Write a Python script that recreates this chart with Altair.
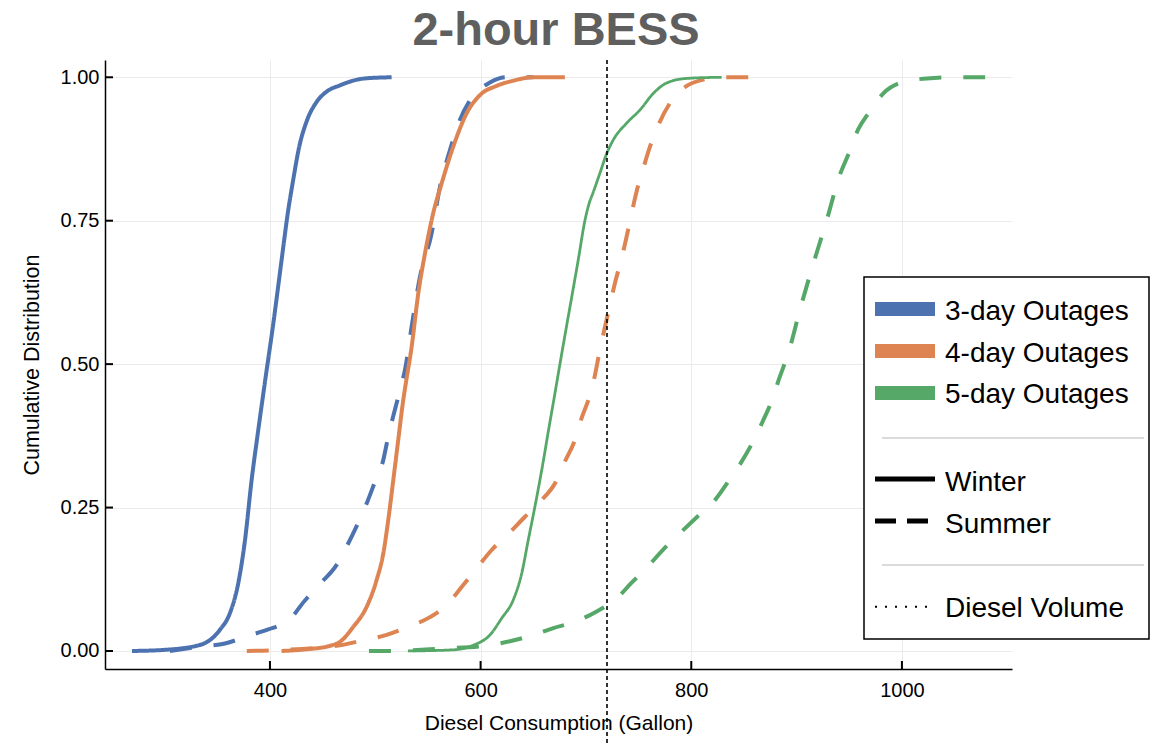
import altair as alt
import pandas as pd

# ---------------- data ----------------
chart_title = "2-hour BESS"
outages = ["3-day Outages", "4-day Outages", "5-day Outages"]
seasons = ["Winter", "Summer"]
colors = ["#4C72B0", "#DD8452", "#55A868"]

w3_x = [269, 300, 333.5, 352.5, 362, 369.9, 376.3, 382.6, 388.9, 395.5, 403.2, 411.1, 417.4, 421.5, 427.8, 435.4, 444.3, 453.8, 466.5, 490.2, 515.5]
w3_y = [0, 0.002, 0.0105, 0.037, 0.066, 0.118, 0.193, 0.298, 0.385, 0.472, 0.571, 0.682, 0.769, 0.815, 0.879, 0.926, 0.957, 0.975, 0.986, 0.998, 1.0]

s3_x = [305, 333.5, 357.3, 377.2, 399, 409.5, 417.4, 433.2, 447.5, 463.3, 472.8, 482.9, 491.8, 499.7, 507.6, 512.3, 517.7, 524.5, 528.2, 534.5, 542.4, 553.5, 561.4, 570.9, 580.4, 589.9, 608.9, 624.7, 650]
s3_y = [0, 0.0075, 0.013, 0.025, 0.038, 0.045, 0.053, 0.088, 0.117, 0.150, 0.182, 0.220, 0.257, 0.295, 0.333, 0.374, 0.414, 0.462, 0.490, 0.565, 0.652, 0.728, 0.809, 0.873, 0.926, 0.960, 0.991, 1.0, 1.0]

w4_x = [411, 434.8, 457, 466.5, 479.1, 491.8, 501.3, 507.6, 512.3, 517.1, 521.8, 526.6, 528.6, 534.5, 540.8, 547.2, 555, 563, 574, 586.7, 599.4, 615.2, 631, 650, 680]
w4_y = [0, 0.003, 0.009, 0.016, 0.042, 0.077, 0.124, 0.170, 0.228, 0.298, 0.368, 0.438, 0.462, 0.530, 0.623, 0.693, 0.763, 0.815, 0.879, 0.937, 0.969, 0.985, 0.994, 1.0, 1.0]

s4_x = [378, 400, 466.5, 487, 510.8, 529.8, 551.9, 566.1, 583.5, 596.2, 610.5, 626.3, 642.1, 656.3, 671.5, 680, 689.6, 695.9, 703.8, 707, 713.3, 722.8, 727.5, 733.8, 738.6, 743.4, 748.1, 754.4, 760.8, 769.6, 779.8, 795, 811.4, 827.2, 858.2]
s4_y = [0, 0.001, 0.010, 0.018, 0.028, 0.041, 0.059, 0.077, 0.115, 0.144, 0.176, 0.204, 0.234, 0.260, 0.295, 0.330, 0.368, 0.406, 0.446, 0.468, 0.525, 0.603, 0.641, 0.684, 0.722, 0.763, 0.801, 0.841, 0.879, 0.920, 0.955, 0.984, 0.996, 1.0, 1.0]

w5_x = [531, 574, 593, 608.9, 620, 631, 639, 645.2, 651.6, 658, 664.5, 670, 675.3, 681, 687, 693, 699, 703, 707, 713.3, 719.7, 726, 738.6, 751.3, 764, 776.6, 795.6, 828.8]
w5_y = [0, 0.002, 0.010, 0.028, 0.057, 0.089, 0.135, 0.193, 0.252, 0.315, 0.385, 0.443, 0.500, 0.560, 0.622, 0.685, 0.750, 0.780, 0.800, 0.833, 0.867, 0.891, 0.920, 0.943, 0.972, 0.990, 0.998, 1.0]

s5_x = [494, 515.5, 560, 604, 627.9, 646.8, 669, 689.6, 710.2, 728.2, 743.4, 759.2, 774.4, 790.2, 805.7, 822.5, 836.1, 847.8, 858.9, 867.8, 877.2, 883.5, 892.1, 903.5, 915.9, 928.6, 940.5, 949.2, 958.7, 968.2, 982.4, 999.7, 1023.5, 1044, 1079]
s5_y = [0, 0, 0.004, 0.009, 0.017, 0.026, 0.040, 0.051, 0.069, 0.090, 0.119, 0.148, 0.179, 0.207, 0.234, 0.263, 0.298, 0.330, 0.366, 0.400, 0.440, 0.475, 0.519, 0.597, 0.675, 0.751, 0.827, 0.866, 0.910, 0.937, 0.972, 0.991, 0.998, 1.0, 1.0]

diesel_volume = [720]
x_ticks = [400, 600, 800, 1000]
y_ticks = [0, 0.25, 0.5, 0.75, 1.0]

# ---------------- build tables ----------------
series = [
    ("3-day Outages", "Winter", w3_x, w3_y, 4.0),
    ("3-day Outages", "Summer", s3_x, s3_y, 4.0),
    ("4-day Outages", "Winter", w4_x, w4_y, 4.0),
    ("4-day Outages", "Summer", s4_x, s4_y, 4.0),
    ("5-day Outages", "Winter", w5_x, w5_y, 2.8),
    ("5-day Outages", "Summer", s5_x, s5_y, 4.0),
]
rows = []
for k, (o, s, xs_, ys_, _) in enumerate(series):
    for i, (a, b) in enumerate(zip(xs_, ys_)):
        rows.append({"key": k, "outage": o, "season": s, "consumption": a, "cdf": b, "idx": i})
df = pd.DataFrame(rows)

FONT = "Liberation Sans"
W, H = 907, 609

xscale = alt.Scale(domain=[243.4, 1104.5], nice=False, zero=False)
yscale = alt.Scale(domain=[-0.0314, 1.0301], nice=False, zero=False)
cscale = alt.Scale(domain=outages, range=colors)
dscale = alt.Scale(domain=seasons, range=[[1, 0], [22, 22]])

x_axis = alt.Axis(
    values=x_ticks, format="d", title="Diesel Consumption (Gallon)",
    grid=True, gridColor="#ebebeb", gridWidth=1, ticks=False,
    domainColor="black", domainWidth=1.5, labelFont=FONT, labelFontSize=20,
    labelColor="black", labelPadding=11, titleFont=FONT, titleFontSize=21,
    titleFontWeight="normal", titleColor="black", titlePadding=12)
y_axis = alt.Axis(
    values=y_ticks, format=".2f", title="Cumulative Distribution",
    grid=True, gridColor="#ebebeb", gridWidth=1, ticks=False,
    domainColor="black", domainWidth=1.5, labelFont=FONT, labelFontSize=20,
    labelColor="black", labelPadding=6, titleFont=FONT, titleFontSize=21.5,
    titleFontWeight="normal", titleColor="black", titlePadding=17)
x_enc = alt.X("consumption:Q", scale=xscale, axis=x_axis)
y_enc = alt.Y("cdf:Q", scale=yscale, axis=y_axis)

layers = []
for k, (o, s, _, _, sw) in enumerate(series):
    layers.append(
        alt.Chart(df).transform_filter(alt.datum.key == k)
        .mark_line(strokeWidth=sw, interpolate="monotone", strokeCap="butt")
        .encode(
            x=x_enc, y=y_enc, order="idx:Q",
            color=alt.Color("outage:N", scale=cscale, legend=None),
            strokeDash=alt.StrokeDash("season:N", scale=dscale, legend=None),
        )
    )

# inward ticks
xt = alt.Chart(pd.DataFrame({"consumption": x_ticks})).mark_rule(color="black", strokeWidth=2).encode(
    x=x_enc, y=alt.value(H), y2=alt.value(H - 8))
yt = alt.Chart(pd.DataFrame({"cdf": y_ticks})).mark_rule(color="black", strokeWidth=2).encode(
    y=y_enc, x=alt.value(0), x2=alt.value(8))

# diesel volume line
dv = alt.Chart(pd.DataFrame({"consumption": diesel_volume})).mark_rule(
    color="black", strokeWidth=1.6, strokeDash=[4, 3]).encode(
    x=x_enc, y=alt.value(0), y2=alt.value(686))

# title as a text mark above the plot
title_mark = alt.Chart(pd.DataFrame({"t": [chart_title]})).mark_text(
    font=FONT, fontSize=47, fontWeight="bold", color="#5f5f5f",
    align="center", baseline="alphabetic").encode(
    x=alt.value(451), y=alt.value(-15), text="t:N")

# ---------------- custom legend ----------------
LX0, LX1 = 759, 1044
one = pd.DataFrame({"a": [0]})
box = alt.Chart(one).mark_rect(
    fill="white", stroke="black", strokeWidth=1.5).encode(
    x=alt.value(LX0), x2=alt.value(LX1), y=alt.value(217), y2=alt.value(579))

leg = [box]
sw_x0, sw_x1, tx = 770, 830, 840
color_rows = [249, 291, 333]
color_base = [260, 301.7, 343.3]
for name, col, yy, yb in zip(outages, colors, color_rows, color_base):
    leg.append(alt.Chart(one).mark_rule(color=col, strokeWidth=14).encode(
        x=alt.value(sw_x0), x2=alt.value(sw_x1), y=alt.value(yy)))
    leg.append(alt.Chart(pd.DataFrame({"t": [name]})).mark_text(
        font=FONT, fontSize=28, align="left", baseline="alphabetic", color="black").encode(
        x=alt.value(tx), y=alt.value(yb), text="t:N"))

for yy in [378, 505]:
    leg.append(alt.Chart(one).mark_rule(color="#cfcfcf", strokeWidth=1.5).encode(
        x=alt.value(777), x2=alt.value(1039), y=alt.value(yy)))

style_rows = [("Winter", 419, 430.7, [1, 0], 5), ("Summer", 461, 473.3, [21, 11], 5),
              ("Diesel Volume", 546.7, 556.7, [2, 8], 2)]
for name, yy, yb, dash, wdt in style_rows:
    leg.append(alt.Chart(one).mark_rule(
        color="black", strokeWidth=wdt, strokeDash=dash).encode(
        x=alt.value(sw_x0), x2=alt.value(sw_x1), y=alt.value(yy)))
    leg.append(alt.Chart(pd.DataFrame({"t": [name]})).mark_text(
        font=FONT, fontSize=28, align="left", baseline="alphabetic", color="black").encode(
        x=alt.value(tx), y=alt.value(yb), text="t:N"))

chart = alt.layer(*layers, xt, yt, dv, title_mark, *leg).properties(
    width=W, height=H,
    autosize=alt.AutoSizeParams(type="none"),
    padding={"left": 105, "top": 60, "right": 138, "bottom": 77},
    background="white",
).configure_view(stroke=None)

chart.save("out.html", embed_options={"renderer": "svg", "actions": False})
